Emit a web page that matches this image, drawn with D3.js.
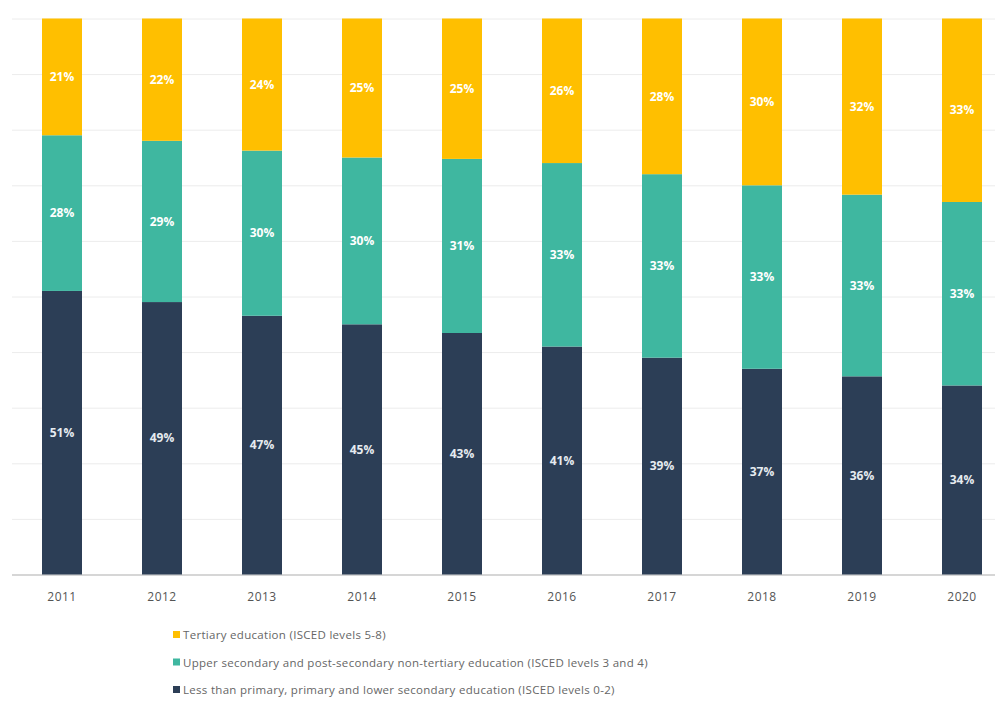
<!DOCTYPE html>
<html>
<head>
<meta charset="utf-8">
<script src="https://cdn.jsdelivr.net/npm/d3@7"></script>
<style>
  html, body { margin: 0; padding: 0; background: #fff; }
  svg { display: block; font-family: "Open Sans", "DejaVu Sans", sans-serif; }
</style>
</head>
<body>
<svg id="chart" width="998" height="711"></svg>
<script>
// Population by educational attainment, share of total (%)
const years = ["2011", "2012", "2013", "2014", "2015", "2016", "2017", "2018", "2019", "2020"];
const lowerSecondary = [51, 49, 47, 45, 43, 41, 39, 37, 36, 34];
const upperSecondary = [28, 29, 30, 30, 31, 33, 33, 33, 33, 33];
const tertiary = [21, 22, 24, 25, 25, 26, 28, 30, 32, 33];

const seriesKeys = ["low", "mid", "high"];
const seriesNames = {
  high: "Tertiary education (ISCED levels 5-8)",
  mid: "Upper secondary and post-secondary non-tertiary education (ISCED levels 3 and 4)",
  low: "Less than primary, primary and lower secondary education (ISCED levels 0-2)"
};
const colors = { low: "#2c3e56", mid: "#3fb7a0", high: "#ffbf00" };

const rows = years.map((y, i) => ({
  year: y, low: lowerSecondary[i], mid: upperSecondary[i], high: tertiary[i]
}));

const svg = d3.select("#chart");
const plot = { left: 12, right: 995, top: 18.5, bottom: 574.5 };

const x = d3.scaleBand()
  .domain(years)
  .range([12, 1012])
  .paddingInner(0.6)
  .paddingOuter(0.3);

const y = d3.scaleLinear().domain([0, 1]).range([plot.bottom, plot.top]);

// Horizontal gridlines every 10%
const grid = svg.append("g")
  .attr("transform", `translate(${plot.left},0)`)
  .call(d3.axisLeft(y).ticks(10).tickSize(-(plot.right - plot.left)).tickFormat(""));
grid.select(".domain").remove();
grid.selectAll(".tick line")
  .attr("stroke", d => d === 0 ? "#c9c9c9" : "#ececec")
  .attr("stroke-width", d => d === 0 ? 1.5 : 1);

// Stacked bars, normalised to 100%
const stacked = d3.stack().keys(seriesKeys).offset(d3.stackOffsetExpand)(rows);

const layers = svg.append("g").selectAll("g")
  .data(stacked)
  .join("g")
  .attr("fill", d => colors[d.key]);

layers.selectAll("rect")
  .data(d => d)
  .join("rect")
  .attr("x", d => x(d.data.year))
  .attr("width", x.bandwidth())
  .attr("y", d => y(d[1]))
  .attr("height", d => y(d[0]) - y(d[1]));

// Value labels centred in each segment
layers.each(function (layer) {
  d3.select(this).selectAll("text")
    .data(layer)
    .join("text")
    .attr("x", d => x(d.data.year) + x.bandwidth() / 2)
    .attr("y", d => (y(d[0]) + y(d[1])) / 2)
    .attr("dy", "0.35em")
    .attr("text-anchor", "middle")
    .attr("fill", layer.key === "low" ? "#e6ebf0" : "#ffffff")
    .attr("font-size", 12)
    .attr("font-weight", 700)
    .text(d => d.data[layer.key] + "%");
});

// Year axis
const xAxis = svg.append("g")
  .attr("transform", `translate(0,${plot.bottom})`)
  .call(d3.axisBottom(x).tickSize(0).tickPadding(18));
xAxis.select(".domain").remove();
xAxis.selectAll("text")
  .attr("font-size", 12)
  .attr("fill", "#555")
  .attr("font-family", "\"Open Sans\", sans-serif")
  .attr("letter-spacing", "0.5px");

// Legend
const legendOrder = ["high", "mid", "low"];
const legend = svg.append("g").selectAll("g")
  .data(legendOrder)
  .join("g")
  .attr("transform", (d, i) => `translate(173,${635 + i * 27.5})`);
legend.append("rect")
  .attr("x", 0).attr("y", -4)
  .attr("width", 7).attr("height", 7)
  .attr("fill", d => colors[d]);
legend.append("text")
  .attr("x", 10)
  .attr("dy", "0.35em")
  .attr("font-size", 11.5)
  .attr("fill", "#666")
  .attr("letter-spacing", "0.3px")
  .text(d => seriesNames[d]);
</script>
</body>
</html>
